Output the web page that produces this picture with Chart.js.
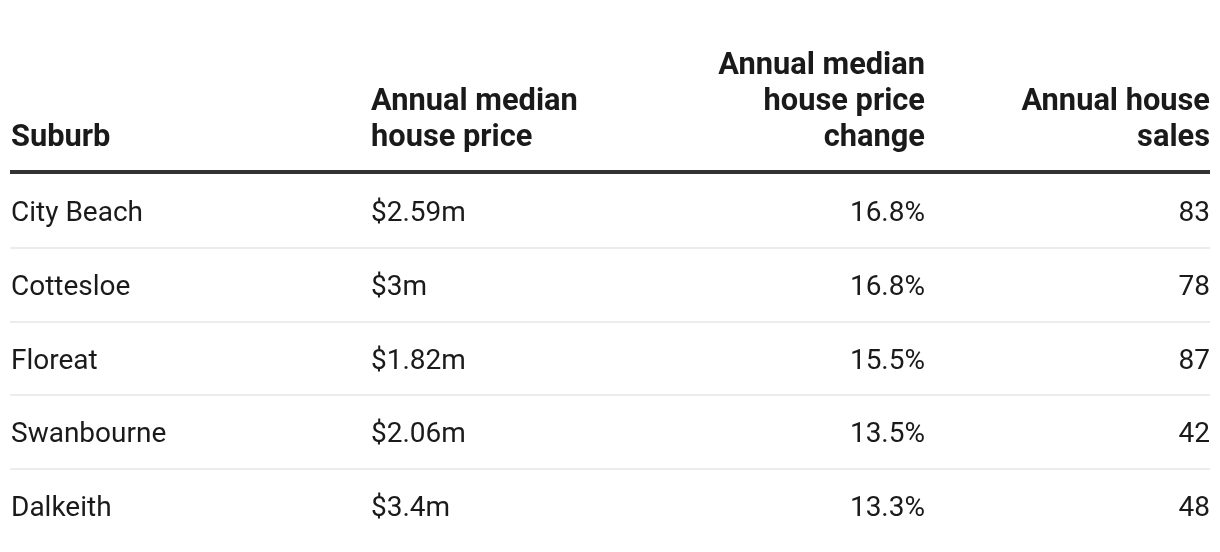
<!DOCTYPE html>
<html>
<head>
<meta charset="utf-8">
<script src="https://cdn.jsdelivr.net/npm/chart.js@4.4.1/dist/chart.umd.min.js"></script>
<style>
  html, body { margin: 0; padding: 0; background: #fff; }
  #wrap { width: 1220px; height: 552px; position: relative; }
</style>
</head>
<body>
<div id="wrap"><canvas id="tableChart"></canvas></div>

<script>
  // table data
  const suburbs = ['City Beach', 'Cottesloe', 'Floreat', 'Swanbourne', 'Dalkeith'];
  const medianPrice = [2.59, 3, 1.82, 2.06, 3.4];      // $m
  const priceChange = [16.8, 16.8, 15.5, 13.5, 13.3];  // %
  const houseSales = [83, 78, 87, 42, 48];

  const headers = [
    ['Suburb'],
    ['Annual median', 'house price'],
    ['Annual median', 'house price', 'change'],
    ['Annual house', 'sales']
  ];

  // column text per row
  const columns = [
    suburbs,
    medianPrice.map(v => '$' + v + 'm'),
    priceChange.map(v => v.toFixed(1) + '%'),
    houseSales.map(v => String(v))
  ];

  // column anchor on the x scale (0..1200) and text alignment
  const colAnchor = [1, 361, 915, 1200];
  const colAlign = ['left', 'left', 'right', 'right'];

  const textColor = '#1a1a1a';

  const datasets = columns.map((col, c) => ({
    label: headers[c].join(' '),
    data: suburbs.map((s, i) => ({x: colAnchor[c], y: s, text: col[i]})),
    pointRadius: 0,
    pointHoverRadius: 0
  }));

  // draws cell texts at the point positions, plus header and rule
  const tableText = {
    id: 'tableText',
    afterDatasetsDraw(chart) {
      const ctx = chart.ctx;
      const area = chart.chartArea;
      ctx.save();
      ctx.fillStyle = textColor;

      // cells
      ctx.font = '28px Roboto';
      ctx.textBaseline = 'alphabetic';
      chart.data.datasets.forEach((ds, c) => {
        const meta = chart.getDatasetMeta(c);
        ctx.textAlign = colAlign[c];
        meta.data.forEach((pt, i) => {
          ctx.fillText(ds.data[i].text, pt.x, pt.y + 10);
        });
      });

      // headers, bottom aligned
      ctx.font = 'bold 30.8px Roboto';
      headers.forEach((lines, c) => {
        const x = chart.scales.x.getPixelForValue(colAnchor[c]);
        ctx.textAlign = colAlign[c];
        lines.forEach((line, k) => {
          const y = area.top - 28 - (lines.length - 1 - k) * 36;
          ctx.fillText(line, x, y);
        });
      });

      // thick rule under the header
      ctx.fillStyle = '#333333';
      ctx.fillRect(area.left, area.top - 4, area.right - area.left, 4);
      ctx.restore();
    }
  };

  function draw() {
    new Chart('tableChart', {
      type: 'scatter',
      data: {datasets: datasets},
      options: {
        responsive: true,
        maintainAspectRatio: false,
        animation: false,
        events: [],
        layout: {padding: {top: 174, left: 10, right: 10, bottom: 9}},
        scales: {
          x: {
            type: 'linear',
            min: 0,
            max: 1200,
            display: false
          },
          y: {
            type: 'category',
            labels: suburbs,
            offset: true,
            ticks: {display: false},
            border: {display: false},
            grid: {
              offset: true,
              drawTicks: false,
              lineWidth: 2,
              // only the lines between rows
              color: (c) => (c.type !== 'tick' || c.index === 0) ? 'rgba(0,0,0,0)' : '#ececec'
            },
            afterFit(scale) { scale.width = 0; }
          }
        },
        plugins: {
          legend: {display: false},
          tooltip: {enabled: false}
        }
      },
      plugins: [tableText]
    });
  }

  Promise.all([
    document.fonts.load('28px Roboto'),
    document.fonts.load('bold 30.8px Roboto')
  ]).then(draw, draw);
</script>
</body>
</html>
